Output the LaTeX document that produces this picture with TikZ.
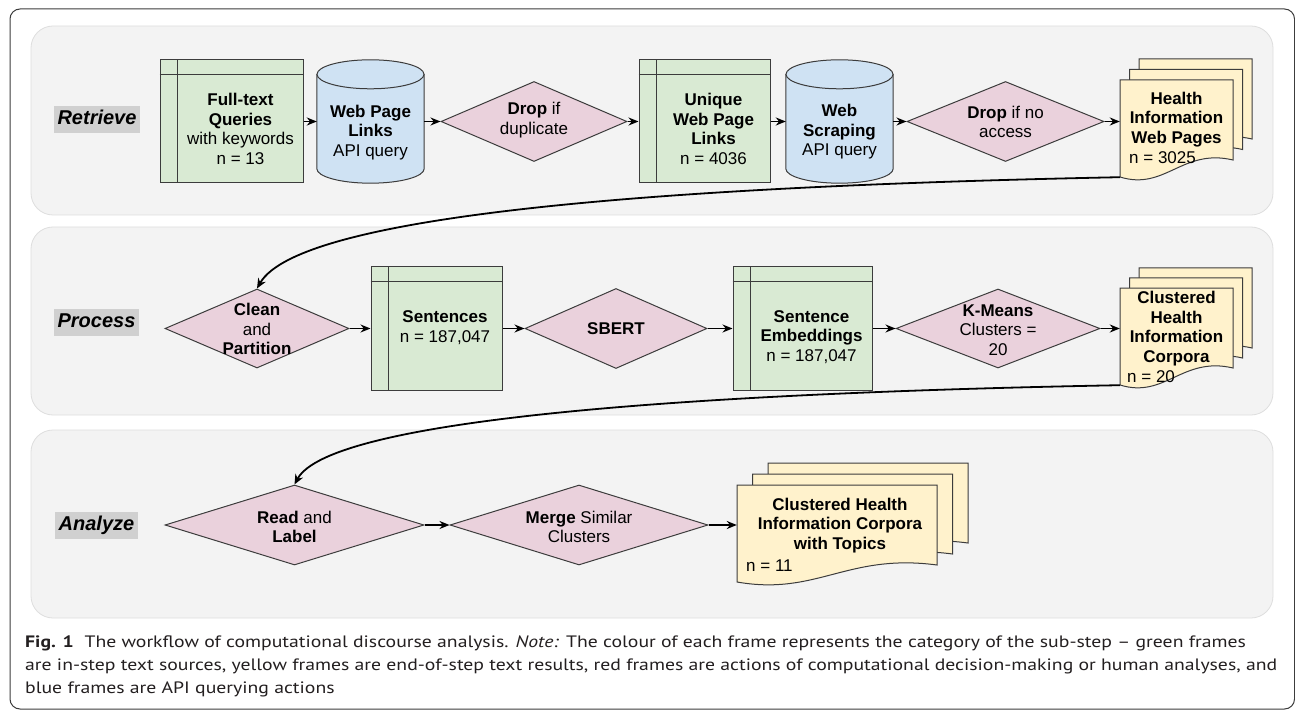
\documentclass[tikz,border=0pt]{standalone}
\usepackage{fontspec}
\usepackage{graphicx}
\setmainfont{Liberation Sans}
\newfontfamily\capfont{PT Sans}
\usetikzlibrary{arrows.meta,calc,shapes.geometric}
\definecolor{gfill}{HTML}{D9EAD3}
\definecolor{bfill}{HTML}{CFE2F3}
\definecolor{pfill}{HTML}{EAD1DC}
\definecolor{yfill}{HTML}{FFF2CC}
\definecolor{panelfill}{HTML}{F3F3F3}
\definecolor{panelline}{HTML}{DEDEDE}
\definecolor{edge}{HTML}{3C3C3C}
\definecolor{lblfill}{HTML}{D0D0D0}
\definecolor{captext}{HTML}{231F20}
\newcommand\dfont{\fontsize{17}{19.5}\selectfont}
\newcommand\capsize{\capfont\fontsize{16.5}{20}\selectfont}
\newcommand\captwo{are in-step text sources, yellow frames are end-of-step text results, red frames are actions of computational decision-making or human analyses, and}
\newsavebox\capbox
\tikzset{
  panel/.style={draw=panelline, fill=panelfill, rounded corners=22pt, line width=0.8pt},
  rowlabel/.style={fill=lblfill, font=\fontsize{20}{24}\selectfont\bfseries\itshape,
    inner xsep=3.5pt, inner ysep=4.25pt, text height=14.5pt, text depth=4pt},
  store/.style={draw=edge, fill=gfill, line width=1pt, rectangle, inner sep=0pt},
  dia/.style={draw=edge, fill=pfill, line width=1pt, diamond, inner sep=0pt},
  inv/.style={inner sep=0pt, draw=none, fill=none, rectangle},
  txt/.style={inner sep=0pt, align=center, font=\dfont},
  ntxt/.style={inner sep=0pt, anchor=west, font=\dfont},
  flow/.style={-{Stealth[length=10pt,width=8pt]}, line width=1.6pt, black},
  bendarrow/.style={-{Stealth[length=10pt,width=8.5pt]}, line width=1.8pt, black},
  capline/.style={inner sep=0pt, anchor=base west, font=\capsize, text=captext},
}
\newcommand\drawcyl[3]{%
  \pgfmathsetmacro\kx{0.5523*#2}\pgfmathsetmacro\ky{0.5523*#3}%
  \filldraw[fill=bfill, draw=edge, line width=1pt]
    ($(#1.north west)+(0,#3)$) -- ($(#1.south west)+(0,-#3)$)
    .. controls +(0,\ky) and +(-\kx,0) .. (#1.south)
    .. controls +(\kx,0) and +(0,\ky) .. ($(#1.south east)+(0,-#3)$)
    -- ($(#1.north east)+(0,#3)$) -- cycle;
  \filldraw[fill=bfill, draw=edge, line width=1pt] ($(#1.north)+(0,#3)$) ellipse [x radius=#2pt, y radius=#3pt];
}
\newcommand\docpage[4]{%
  \filldraw[fill=yfill, draw=edge, line width=1pt] (#1,#2) -- ++(#3,0) -- ++(0,#4)
    .. controls ($(#1,#2)+(0.55*#3,#4-12)$) and ($(#1,#2)+(0.4*#3,#4+31)$) .. ($(#1,#2)+(0,#4+17)$) -- cycle;
}
\newcommand\docstack[6]{%
  \docpage{#1+2*#5}{#2-2*#6}{#3}{#4}
  \docpage{#1+#5}{#2-#6}{#3}{#4}
  \docpage{#1}{#2}{#3}{#4}
}
\newcommand\storelines[1]{%
  \draw[edge, line width=1pt] ([xshift=18pt]#1.north west) -- ([xshift=18pt]#1.south west);
  \draw[edge, line width=1pt] ([yshift=-15pt]#1.north west) -- ([yshift=-15pt]#1.north east);
}
\begin{document}
\sbox\capbox{\capsize\captwo}%
\pgfmathsetmacro\capratio{1252/\the\wd\capbox}%
\begin{tikzpicture}[x=1pt, y=-1pt]
\fill[white] (0,0) rectangle (1295,711);
\useasboundingbox (0,0) rectangle (1295,711);
% outer frame
\draw[edge, line width=1pt, rounded corners=10pt] (10,9) rectangle (1294.5,709);
% panels
\draw[panel] (31,26) rectangle (1273,215);
\draw[panel] (31,227) rectangle (1273,415);
\draw[panel] (31,430) rectangle (1273,618);
% row labels
\node[rowlabel] (lr) at (97,119.5) {Retrieve};
\node[rowlabel] (lp) at (96.5,322) {Process};
\node[rowlabel] (la) at (96.5,525) {Analyze};

% ---------- Retrieve row ----------
\node[store, minimum width=143pt, minimum height=123pt] (q1) at (231.5,121.5) {};
\storelines{q1}
\node[inv, minimum width=107pt, minimum height=123pt] (c1) at (370.5,121.5) {};
\drawcyl{c1}{53.5}{14.5}
\node[dia, minimum width=186pt, minimum height=80pt] (d1) at (534,121.5) {};
\node[store, minimum width=131pt, minimum height=123pt] (q2) at (704.5,121.5) {};
\storelines{q2}
\node[inv, minimum width=107pt, minimum height=123pt] (c2) at (839.5,121.5) {};
\drawcyl{c2}{53.5}{14.5}
\node[dia, minimum width=197pt, minimum height=80pt] (d2) at (1005.5,121.5) {};
\docstack{1120}{80}{113}{80}{9.5}{10.5}
\node[inv, minimum width=113pt, minimum height=97pt] (w1) at (1176.5,128.5) {};

\node[txt] (tq1) at (240.5,129) {\textbf{Full-text}\\\textbf{Queries}\\with keywords\\n = 13};
\node[txt] (tc1) at (370.5,132.5) {\textbf{Web Page}\\\textbf{Links}\\API query};
\node[txt] (td1) at (534,120) {\textbf{Drop} if\\duplicate};
\node[txt] (tq2) at (713.5,129) {\textbf{Unique}\\\textbf{Web Page}\\\textbf{Links}\\n = 4036};
\node[txt] (tc2) at (839.5,132) {\textbf{Web}\\\textbf{Scraping}\\API query};
\node[txt] (td2) at (1005.5,122) {\textbf{Drop} if no\\access};
\node[txt] (tw1) at (1176.5,119.5) {\textbf{Health}\\\textbf{Information}\\\textbf{Web Pages}};
\node[ntxt] (nw1) at (1129,158) {n = 3025};

% ---------- Process row ----------
\node[dia, minimum width=184pt, minimum height=79pt] (cl) at (257,328.5) {};
\node[store, minimum width=131pt, minimum height=123pt] (s1) at (436.5,328.5) {};
\storelines{s1}
\node[dia, minimum width=182pt, minimum height=80pt] (sb) at (616,328.5) {};
\node[store, minimum width=139pt, minimum height=123pt] (s2) at (802.5,328.5) {};
\storelines{s2}
\node[dia, minimum width=204pt, minimum height=79pt] (km) at (998,328.5) {};
\docstack{1120}{288}{113}{80}{9.5}{10}
\node[inv, minimum width=113pt, minimum height=97pt] (w2) at (1176.5,336.5) {};

\node[txt] (tcl) at (257,329) {\textbf{Clean}\\and\\\textbf{Partition}};
\node[txt] (ts1) at (445,327.5) {\textbf{Sentences}\\n = 187,047};
\node[txt] (tsb) at (616,328.5) {\textbf{SBERT}};
\node[txt] (ts2) at (811.5,337) {\textbf{Sentence}\\\textbf{Embeddings}\\n = 187,047};
\node[txt] (tkm) at (998,330) {\textbf{K-Means}\\Clusters =\\20};
\node[txt] (tw2) at (1176.5,328.5) {\textbf{Clustered}\\\textbf{Health}\\\textbf{Information}\\\textbf{Corpora}};
\node[ntxt] (nw2) at (1127,377) {n = 20};

% ---------- Analyze row ----------
\node[dia, minimum width=259pt, minimum height=80pt] (rd) at (294.5,525) {};
\node[dia, minimum width=258pt, minimum height=80pt] (mg) at (579,525) {};
\docstack{737}{485}{200}{80}{15.5}{11}
\node[inv, minimum width=200pt, minimum height=97pt] (w3) at (837,533.5) {};

\node[txt] (trd) at (294.5,527) {\textbf{Read} and\\\textbf{Label}};
\node[txt] (tmg) at (579,527) {\textbf{Merge} Similar\\Clusters};
\node[txt] (tw3) at (840,525.5) {\textbf{Clustered Health}\\\textbf{Information Corpora}\\\textbf{with Topics}};
\node[ntxt] (nw3) at (746,566) {n = 11};

% ---------- connectors ----------
\draw[flow] (q1.east) -- (c1.west);
\draw[flow] (c1.east) -- (d1.west);
\draw[flow] (d1.east) -- (q2.west);
\draw[flow] (q2.east) -- (c2.west);
\draw[flow] (c2.east) -- (d2.west);
\draw[flow] (d2.east) -- (d2.east -| w1.west);

\draw[flow] (cl.east) -- (s1.west);
\draw[flow] (s1.east) -- (sb.west);
\draw[flow] (sb.east) -- (s2.west);
\draw[flow] (s2.east) -- (km.west);
\draw[flow] (km.east) -- (km.east -| w2.west);

\draw[flow] (rd.east) -- (mg.west);
\draw[flow] (mg.east) -- (mg.east -| w3.west);

\draw[bendarrow] (w1.south west) .. controls (680,186) and (300,213) .. (cl.north);
\draw[bendarrow] (w2.south west) .. controls (700,393) and (330,418) .. (rd.north);

% ---------- caption ----------
\node[capline] (cap1) at (25,647) {\scalebox{\capratio}[1]{\textbf{Fig. 1}\hspace{0.55em}The workflow of computational discourse analysis. \textit{Note:} The colour of each frame represents the category of the sub-step – green frames}};
\node[capline] (cap2) at (25,670) {\scalebox{\capratio}[1]{\captwo}};
\node[capline] (cap3) at (25,693) {\scalebox{\capratio}[1]{blue frames are API querying actions}};
\end{tikzpicture}
\end{document}
